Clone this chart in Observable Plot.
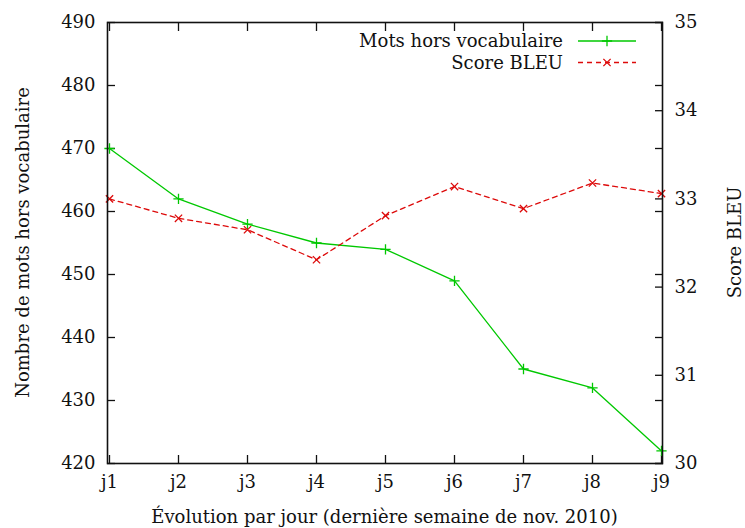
<!DOCTYPE html>
<html>
<head>
<meta charset="utf-8">
<script src="https://cdn.jsdelivr.net/npm/d3@7"></script>
<script src="https://cdn.jsdelivr.net/npm/@observablehq/plot@0.6"></script>
<style>
  html, body { margin: 0; padding: 0; background: #fff; }
  #chart svg { display: block; }
</style>
</head>
<body>
<div id="chart"></div>
<script>
const days = ["j1", "j2", "j3", "j4", "j5", "j6", "j7", "j8", "j9"];
const oov = [470, 462, 458, 455, 454, 449, 435, 432, 422];
const bleu = [33.0, 32.78, 32.65, 32.31, 32.81, 33.14, 32.89, 33.18, 33.06];
const leftTicks = [420, 430, 440, 450, 460, 470, 480, 490];
const rightTicks = [30, 31, 32, 33, 34, 35];
const leftDomain = [420, 490];
const rightDomain = [30, 35];
const seriesNames = ["Mots hors vocabulaire", "Score BLEU"];
const xLabel = "Évolution par jour (dernière semaine de nov. 2010)";
const yLabel = "Nombre de mots hors vocabulaire";
const y2Label = "Score BLEU";

const green = "#00c800";
const red = "#dd0a0a";
const font = "'DejaVu Serif', serif";
const fs = 18;

// map right-axis values onto the left scale
const k = (leftDomain[1] - leftDomain[0]) / (rightDomain[1] - rightDomain[0]);
const toLeft = b => leftDomain[0] + (b - rightDomain[0]) * k;
const fromLeft = v => rightDomain[0] + (v - leftDomain[0]) / k;

const oovData = days.map((d, i) => ({day: d, v: oov[i]}));
const bleuData = days.map((d, i) => ({day: d, v: toLeft(bleu[i])}));

const W = 745, H = 528;
const mL = 107, mR = 83, mT = 22, mB = 65;
const R = 3.4;

const plot = Plot.plot({
  width: W,
  height: H,
  marginLeft: mL,
  marginRight: mR,
  marginTop: mT,
  marginBottom: mB,
  style: {fontFamily: font, fontSize: fs + "px", color: "#111", background: "#fff"},
  x: {type: "point", domain: days, padding: 0},
  y: {domain: leftDomain},
  marks: [
    // inward ticks
    Plot.axisX({anchor: "bottom", tickSize: -8, fill: "none", strokeWidth: 1.3, label: null}),
    Plot.axisX({anchor: "top", tickSize: -8, fill: "none", strokeWidth: 1.3, label: null}),
    Plot.axisY(leftTicks, {anchor: "left", tickSize: -8, fill: "none", strokeWidth: 1.3, label: null}),
    Plot.axisY(leftTicks, {anchor: "right", tickSize: -8, fill: "none", strokeWidth: 1.3, label: null}),
    Plot.axisY(rightTicks.map(toLeft), {anchor: "right", tickSize: -8, fill: "none", strokeWidth: 1.3, label: null}),
    // tick labels
    Plot.axisX({anchor: "bottom", tickSize: 0, tickPadding: 12, label: null, fontSize: fs, fontFamily: font}),
    Plot.axisY(leftTicks, {anchor: "left", tickSize: 0, tickPadding: 12, label: null, fontSize: fs, fontFamily: font}),
    Plot.axisY(rightTicks.map(toLeft), {anchor: "right", tickSize: 0, tickPadding: 12, label: null, fontSize: fs, fontFamily: font,
      tickFormat: v => String(Math.round(fromLeft(v)))}),
    // data
    Plot.line(oovData, {x: "day", y: "v", stroke: green, strokeWidth: 1.3}),
    Plot.dot(oovData, {x: "day", y: "v", symbol: "plus", r: R, stroke: green, strokeWidth: 1.3}),
    Plot.line(bleuData, {x: "day", y: "v", stroke: red, strokeWidth: 1.3, strokeDasharray: "5,4"}),
    Plot.dot(bleuData, {x: "day", y: "v", symbol: "times", r: R, stroke: red, strokeWidth: 1.3}),
    Plot.frame({stroke: "#111", strokeWidth: 1.6})
  ]
});

document.getElementById("chart").appendChild(plot);

// labels and legend
const svg = d3.select(plot);
const cx = (mL + (W - mR)) / 2;
const cy = (mT + (H - mB)) / 2;
svg.append("text").attr("x", cx).attr("y", 523).attr("text-anchor", "middle")
  .attr("font-family", font).attr("font-size", fs).attr("fill", "#111").text(xLabel);
svg.append("text").attr("transform", `translate(22,${cy}) rotate(-90)`).attr("text-anchor", "middle")
  .attr("dominant-baseline", "central")
  .attr("font-family", font).attr("font-size", fs).attr("fill", "#111").text(yLabel);
svg.append("text").attr("transform", `translate(734,${cy}) rotate(-90)`).attr("text-anchor", "middle")
  .attr("dominant-baseline", "central")
  .attr("font-family", font).attr("font-size", fs).attr("fill", "#111").text(y2Label);

const legend = [
  {name: seriesNames[0], color: green, dash: null, rot: 0},
  {name: seriesNames[1], color: red, dash: "5,4", rot: 45}
];
legend.forEach((l, i) => {
  const ly = 41 + i * 21.5;
  svg.append("text").attr("x", 563).attr("y", ly).attr("dy", "0.35em").attr("text-anchor", "end")
    .attr("font-family", font).attr("font-size", fs).attr("fill", "#111").text(l.name);
  svg.append("line").attr("x1", 578).attr("x2", 636).attr("y1", ly).attr("y2", ly)
    .attr("stroke", l.color).attr("stroke-width", 1.3).attr("stroke-dasharray", l.dash);
  svg.append("path").attr("d", d3.symbol(d3.symbolPlus, Math.PI * R * R)())
    .attr("transform", `translate(607,${ly}) rotate(${l.rot})`)
    .attr("fill", "none").attr("stroke", l.color).attr("stroke-width", 1.3);
});
</script>
</body>
</html>
